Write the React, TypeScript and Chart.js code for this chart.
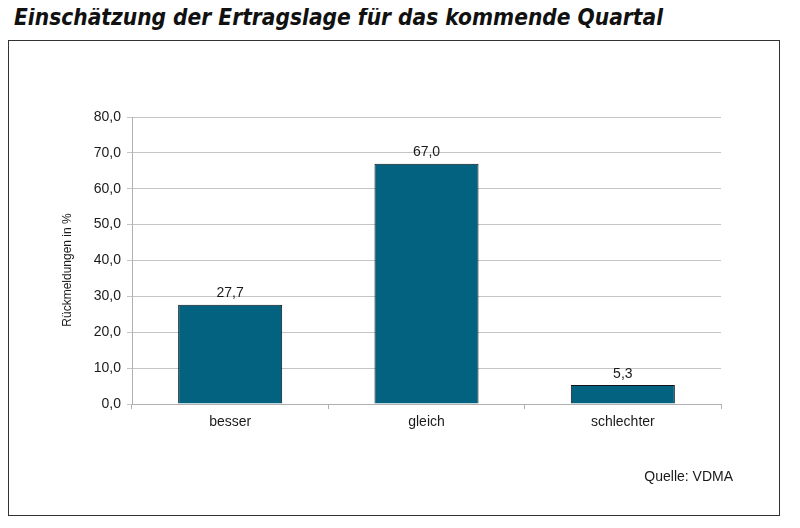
import React, { useEffect, useRef } from "react";
import { Chart, registerables } from "chart.js";

Chart.register(...registerables);

const categories = ["besser", "gleich", "schlechter"];
const values = [27.7, 67.0, 5.3];
const yTicks = [0, 10, 20, 30, 40, 50, 60, 70, 80];

const fmt = (v: number) => v.toFixed(1).replace(".", ",");

const CW = 770;
const CH = 474;

export default function App() {
  const ref = useRef<HTMLCanvasElement | null>(null);

  useEffect(() => {
    if (!ref.current) return;
    const labelPlugin = {
      id: "labels",
      afterDatasetsDraw(chart: any) {
        const ctx = chart.ctx;
        const meta = chart.getDatasetMeta(0);
        ctx.save();
        ctx.fillStyle = "#1a1a1a";
        ctx.font = "14px 'Liberation Sans', Arial, sans-serif";
        ctx.textAlign = "center";
        ctx.textBaseline = "bottom";
        meta.data.forEach((bar: any, i: number) => {
          ctx.fillText(fmt(values[i]), bar.x, bar.y - 4);
        });
        ctx.textAlign = "right";
        ctx.textBaseline = "middle";
        ctx.fillText("Quelle: VDMA", 724, 436);
        // y axis title
        ctx.translate(59, 229);
        ctx.rotate(-Math.PI / 2);
        ctx.textAlign = "center";
        ctx.textBaseline = "middle";
        ctx.font = "12px 'Liberation Sans', Arial, sans-serif";
        ctx.fillText("Rückmeldungen in %", 0, 0);
        ctx.restore();
      },
    };
    const chart = new Chart(ref.current, {
      type: "bar",
      data: {
        labels: categories,
        datasets: [
          {
            data: values,
            backgroundColor: "#02627f",
            borderColor: "#0d1418",
            borderWidth: 1,
            categoryPercentage: 1,
            barPercentage: 0.53,
          },
        ],
      },
      options: {
        animation: false,
        responsive: false,
        devicePixelRatio: 1,
        layout: { padding: { left: 0, top: 76, right: 58, bottom: 0 } },
        plugins: { legend: { display: false }, tooltip: { enabled: false } },
        scales: {
          x: {
            grid: {
              offset: true,
              drawOnChartArea: false,
              drawTicks: true,
              tickLength: 5,
              color: "#b0b0b0",
            },
            border: { color: "#b0b0b0" },
            ticks: {
              color: "#1a1a1a",
              font: { family: "'Liberation Sans', Arial, sans-serif", size: 14 },
              padding: 5,
            },
            afterFit: (s: any) => {
              s.height = CH - 363;
            },
          },
          y: {
            min: 0,
            max: 80,
            afterBuildTicks: (s: any) => {
              s.ticks = yTicks.map((v) => ({ value: v }));
            },
            grid: { color: "#c4c4c4", tickLength: 5, lineWidth: 1 },
            border: { color: "#b0b0b0" },
            ticks: {
              color: "#1a1a1a",
              font: { family: "'Liberation Sans', Arial, sans-serif", size: 14 },
              padding: 6,
              callback: (v: any) => fmt(Number(v)),
            },
            afterFit: (s: any) => {
              s.width = 123;
            },
          },
        },
      },
      plugins: [labelPlugin],
    });
    return () => chart.destroy();
  }, []);

  return (
    <div style={{ width: 772, position: "relative" }}>
      <div style={{ height: 32, paddingLeft: 6, whiteSpace: "nowrap" }}>
        <span
          style={{
            display: "inline-block",
            transform: "scaleX(0.88)",
            transformOrigin: "left center",
            fontFamily: "'DejaVu Sans', sans-serif",
            fontStyle: "italic",
            fontWeight: "bold",
            fontSize: 23,
            lineHeight: "19px",
            color: "#111",
          }}
        >
          Einschätzung der Ertragslage für das kommende Quartal
        </span>
      </div>
      <div
        style={{
          border: "1px solid #333",
          width: CW,
          height: CH,
        }}
      >
        <canvas ref={ref} width={CW} height={CH} style={{ display: "block" }} />
      </div>
    </div>
  );
}
